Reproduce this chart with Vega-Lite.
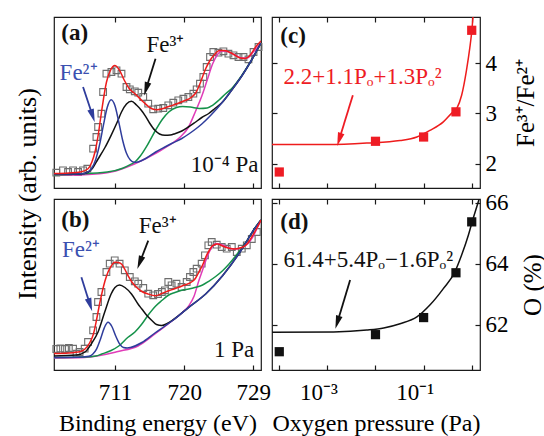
{
"$schema": "https://vega.github.io/schema/vega-lite/v6.json",
"padding": {"left": 13, "top": 15, "right": 0, "bottom": 0},
"bounds": "flush",
"columns": 2,
"spacing": {"row": 11, "column": 11},
"config": {
  "font": "Liberation Serif",
  "view": {"stroke": "#1a1a1a", "strokeWidth": 1.2},
  "axis": {"grid": false, "domain": false, "tickColor": "#1a1a1a", "tickSize": -5, "tickWidth": 1.2, "labelFont": "Liberation Serif", "labelFontSize": 23, "labelColor": "#000", "titleFont": "Liberation Serif", "titleFontSize": 24, "titleFontWeight": "normal", "titleColor": "#000", "labelFlush": false, "labelOverlap": false, "labelBound": false},
  "text": {"font": "Liberation Serif", "fontSize": 22}
},
"datasets": {
  "a": [
    {"c":"sat2","e":703.07,"i":10.7},{"c":"sat2","e":707,"i":11.3},{"c":"sat2","e":710.5,"i":14},{"c":"sat2","e":713.6,"i":22.3},{"c":"sat2","e":716.6,"i":34},{"c":"sat2","e":718.5,"i":43},{"c":"sat2","e":719.5,"i":49},{"c":"sat2","e":720.5,"i":58},{"c":"sat2","e":721.5,"i":75},{"c":"sat2","e":722.3,"i":90},{"c":"sat2","e":723,"i":106},{"c":"sat2","e":723.7,"i":122},{"c":"sat2","e":724.3,"i":131},{"c":"sat2","e":724.9,"i":135},{"c":"sat2","e":725.6,"i":134.5},{"c":"sat2","e":726.5,"i":131.5},{"c":"sat2","e":727.5,"i":128},{"c":"sat2","e":728.2,"i":128},{"c":"sat2","e":729,"i":134},{"c":"sat2","e":730,"i":143},
    {"c":"sat1","e":703.07,"i":11},{"c":"sat1","e":710,"i":14},{"c":"sat1","e":712,"i":17.8},{"c":"sat1","e":713,"i":21.5},{"c":"sat1","e":713.6,"i":24},{"c":"sat1","e":714.3,"i":30},{"c":"sat1","e":715.3,"i":42},{"c":"sat1","e":716.3,"i":56},{"c":"sat1","e":717.2,"i":67},{"c":"sat1","e":718,"i":74},{"c":"sat1","e":719,"i":78.5},{"c":"sat1","e":719.8,"i":79.5},{"c":"sat1","e":720.8,"i":79},{"c":"sat1","e":722,"i":77.5},{"c":"sat1","e":723,"i":78},{"c":"sat1","e":723.7,"i":80.7},{"c":"sat1","e":724.5,"i":85.7},{"c":"sat1","e":725.4,"i":92.3},{"c":"sat1","e":726.2,"i":97.5},{"c":"sat1","e":727.5,"i":110.5},{"c":"sat1","e":728.7,"i":125},{"c":"sat1","e":730,"i":143},
    {"c":"fe3","e":703.07,"i":12},{"c":"fe3","e":706,"i":12},{"c":"fe3","e":707,"i":12.5},{"c":"fe3","e":708,"i":17},{"c":"fe3","e":708.8,"i":27},{"c":"fe3","e":709.7,"i":38.5},{"c":"fe3","e":710.5,"i":50.7},{"c":"fe3","e":711.3,"i":64},{"c":"fe3","e":711.85,"i":74},{"c":"fe3","e":712.5,"i":82},{"c":"fe3","e":713.15,"i":84.7},{"c":"fe3","e":713.8,"i":81},{"c":"fe3","e":714.4,"i":76},{"c":"fe3","e":714.9,"i":70.7},{"c":"fe3","e":715.5,"i":63},{"c":"fe3","e":716.2,"i":55.7},{"c":"fe3","e":716.8,"i":52},{"c":"fe3","e":717.5,"i":50.7},{"c":"fe3","e":718.2,"i":51},{"c":"fe3","e":718.8,"i":52.3},{"c":"fe3","e":719.7,"i":55},{"c":"fe3","e":720.55,"i":59},{"c":"fe3","e":721.4,"i":63.5},{"c":"fe3","e":722.3,"i":68.5},{"c":"fe3","e":723.2,"i":72.5},{"c":"fe3","e":724,"i":77.5},{"c":"fe3","e":724.9,"i":83.2},{"c":"fe3","e":726.2,"i":96},{"c":"fe3","e":727.5,"i":110},{"c":"fe3","e":728.7,"i":125},{"c":"fe3","e":730,"i":143},
    {"c":"fe2","e":703.07,"i":12},{"c":"fe2","e":705,"i":12},{"c":"fe2","e":706.5,"i":12.3},{"c":"fe2","e":707,"i":12.5},{"c":"fe2","e":707.5,"i":14},{"c":"fe2","e":708,"i":18},{"c":"fe2","e":708.5,"i":26.6},{"c":"fe2","e":709,"i":41.3},{"c":"fe2","e":709.5,"i":60.9},{"c":"fe2","e":710,"i":78.7},{"c":"fe2","e":710.5,"i":86.2},{"c":"fe2","e":711,"i":80.2},{"c":"fe2","e":711.5,"i":63.9},{"c":"fe2","e":712,"i":45.8},{"c":"fe2","e":712.5,"i":32.7},{"c":"fe2","e":713,"i":25.9},{"c":"fe2","e":713.5,"i":23.7},{"c":"fe2","e":714,"i":24.1},{"c":"fe2","e":715,"i":27.5},{"c":"fe2","e":716.3,"i":34},{"c":"fe2","e":717.5,"i":39},{"c":"fe2","e":718.5,"i":43},{"c":"fe2","e":719.7,"i":47.5},{"c":"fe2","e":720.6,"i":52},{"c":"fe2","e":721.5,"i":57},{"c":"fe2","e":722.3,"i":62},{"c":"fe2","e":723.5,"i":71},{"c":"fe2","e":724.9,"i":83},{"c":"fe2","e":726.2,"i":96},{"c":"fe2","e":727.5,"i":110},{"c":"fe2","e":728.7,"i":125},{"c":"fe2","e":730,"i":143},
    {"c":"fit","e":703.07,"i":12.5},{"c":"fit","e":705,"i":13},{"c":"fit","e":706.5,"i":14},{"c":"fit","e":707.5,"i":17.3},{"c":"fit","e":708,"i":24},{"c":"fit","e":708.4,"i":34},{"c":"fit","e":708.8,"i":50},{"c":"fit","e":709.25,"i":74},{"c":"fit","e":709.9,"i":104},{"c":"fit","e":710.5,"i":117},{"c":"fit","e":710.97,"i":120.5},{"c":"fit","e":711.6,"i":115.7},{"c":"fit","e":712.2,"i":106},{"c":"fit","e":712.9,"i":97},{"c":"fit","e":713.6,"i":92.3},{"c":"fit","e":714.7,"i":84},{"c":"fit","e":715.8,"i":77.3},{"c":"fit","e":716.5,"i":76.3},{"c":"fit","e":717.3,"i":77.5},{"c":"fit","e":718,"i":79.5},{"c":"fit","e":719,"i":82},{"c":"fit","e":719.8,"i":84.5},{"c":"fit","e":721,"i":89},{"c":"fit","e":721.5,"i":93},{"c":"fit","e":722,"i":101},{"c":"fit","e":722.8,"i":117.3},{"c":"fit","e":723.4,"i":126},{"c":"fit","e":723.9,"i":131},{"c":"fit","e":724.6,"i":135.5},{"c":"fit","e":725.2,"i":135.5},{"c":"fit","e":726.3,"i":132.3},{"c":"fit","e":727.3,"i":128},{"c":"fit","e":727.9,"i":127.5},{"c":"fit","e":728.6,"i":131},{"c":"fit","e":729.3,"i":139},{"c":"fit","e":730,"i":145}
  ],
  "ap": [
    {"e":703.37,"i":13.3},{"e":704.24,"i":15.7},{"e":704.9,"i":14},{"e":705.55,"i":15.7},{"e":706.2,"i":14},{"e":706.85,"i":15.7},{"e":707.41,"i":17.3},{"e":708.16,"i":37.3},{"e":708.59,"i":49},{"e":708.81,"i":59},{"e":709.24,"i":72.3},{"e":709.46,"i":94},{"e":709.89,"i":112.3},{"e":710.54,"i":114},{"e":711.2,"i":115.7},{"e":711.85,"i":112.3},{"e":712.5,"i":99},{"e":712.93,"i":96.7},{"e":713.58,"i":94.7},{"e":714.03,"i":93.3},{"e":714.68,"i":89},{"e":715.33,"i":82.3},{"e":715.98,"i":76.7},{"e":716.63,"i":77.3},{"e":717.29,"i":78},{"e":717.94,"i":80.7},{"e":718.59,"i":83.3},{"e":719.24,"i":85.7},{"e":719.9,"i":87.3},{"e":720.55,"i":89},{"e":721.2,"i":92.3},{"e":721.63,"i":96.7},{"e":722.06,"i":102.3},{"e":722.5,"i":109},{"e":722.93,"i":119},{"e":723.37,"i":129},{"e":723.8,"i":134},{"e":724.46,"i":133.3},{"e":725.11,"i":134.7},{"e":725.76,"i":132.3},{"e":726.42,"i":130.7},{"e":727.07,"i":129},{"e":727.72,"i":129},{"e":728.37,"i":126.7},{"e":729.03,"i":134},{"e":729.68,"i":139}
  ],
  "b": [
    {"c":"sat2","e":703.07,"i":12},{"c":"sat2","e":707,"i":12.5},{"c":"sat2","e":711.4,"i":18.5},{"c":"sat2","e":714,"i":24},{"c":"sat2","e":716.2,"i":36},{"c":"sat2","e":718.5,"i":49.5},{"c":"sat2","e":719.7,"i":57},{"c":"sat2","e":720.6,"i":64},{"c":"sat2","e":721.3,"i":74},{"c":"sat2","e":721.9,"i":89},{"c":"sat2","e":722.4,"i":100},{"c":"sat2","e":722.8,"i":109},{"c":"sat2","e":723.4,"i":120},{"c":"sat2","e":724.2,"i":126.5},{"c":"sat2","e":725,"i":125},{"c":"sat2","e":725.8,"i":122},{"c":"sat2","e":726.6,"i":121},{"c":"sat2","e":727.5,"i":122.5},{"c":"sat2","e":728.3,"i":126.5},{"c":"sat2","e":728.9,"i":132.7},{"c":"sat2","e":729.5,"i":142},{"c":"sat2","e":730,"i":150},
    {"c":"sat1","e":703.07,"i":12.5},{"c":"sat1","e":707,"i":13},{"c":"sat1","e":708.5,"i":14},{"c":"sat1","e":709.3,"i":16},{"c":"sat1","e":710.5,"i":19.5},{"c":"sat1","e":711.5,"i":24},{"c":"sat1","e":712.7,"i":32.7},{"c":"sat1","e":713.6,"i":38},{"c":"sat1","e":714.5,"i":46},{"c":"sat1","e":715.3,"i":54.7},{"c":"sat1","e":716.3,"i":64},{"c":"sat1","e":717.1,"i":69.5},{"c":"sat1","e":718,"i":75},{"c":"sat1","e":718.8,"i":77.5},{"c":"sat1","e":719.8,"i":80},{"c":"sat1","e":720.6,"i":81},{"c":"sat1","e":721.5,"i":82.7},{"c":"sat1","e":722.4,"i":85},{"c":"sat1","e":723.2,"i":88.7},{"c":"sat1","e":724.1,"i":93.5},{"c":"sat1","e":725,"i":99.3},{"c":"sat1","e":725.9,"i":106.5},{"c":"sat1","e":726.7,"i":114},{"c":"sat1","e":727.6,"i":123},{"c":"sat1","e":728.45,"i":132.7},{"c":"sat1","e":729.3,"i":143},{"c":"sat1","e":730,"i":150},
    {"c":"fe3","e":703.07,"i":14},{"c":"fe3","e":706,"i":15},{"c":"fe3","e":707.1,"i":18},{"c":"fe3","e":708,"i":27},{"c":"fe3","e":708.8,"i":38},{"c":"fe3","e":709.67,"i":58},{"c":"fe3","e":710.5,"i":76},{"c":"fe3","e":711,"i":82.5},{"c":"fe3","e":711.6,"i":85},{"c":"fe3","e":712.3,"i":82.5},{"c":"fe3","e":713.15,"i":76},{"c":"fe3","e":714,"i":66},{"c":"fe3","e":714.5,"i":61},{"c":"fe3","e":715.1,"i":55},{"c":"fe3","e":715.8,"i":49.5},{"c":"fe3","e":716.4,"i":45.5},{"c":"fe3","e":717.1,"i":44.5},{"c":"fe3","e":717.8,"i":46.5},{"c":"fe3","e":718.5,"i":49.8},{"c":"fe3","e":720.6,"i":62.7},{"c":"fe3","e":722.8,"i":76},{"c":"fe3","e":725,"i":94.3},{"c":"fe3","e":727.1,"i":116},{"c":"fe3","e":729.3,"i":142.7},{"c":"fe3","e":730,"i":150},
    {"c":"fe2","e":703.07,"i":12.5},{"c":"fe2","e":706,"i":12.7},{"c":"fe2","e":707.6,"i":13.7},{"c":"fe2","e":708.1,"i":15.7},{"c":"fe2","e":708.6,"i":20.8},{"c":"fe2","e":709.1,"i":30.6},{"c":"fe2","e":709.6,"i":41.9},{"c":"fe2","e":710.1,"i":47.7},{"c":"fe2","e":710.6,"i":43.5},{"c":"fe2","e":711.1,"i":34},{"c":"fe2","e":711.6,"i":26.1},{"c":"fe2","e":712.1,"i":22.6},{"c":"fe2","e":712.6,"i":22.1},{"c":"fe2","e":713,"i":22.5},{"c":"fe2","e":714.5,"i":27.5},{"c":"fe2","e":716.2,"i":37},{"c":"fe2","e":717.5,"i":44},{"c":"fe2","e":718.5,"i":49.5},{"c":"fe2","e":720.6,"i":62.7},{"c":"fe2","e":722.8,"i":76},{"c":"fe2","e":725,"i":94.3},{"c":"fe2","e":727.1,"i":116},{"c":"fe2","e":729.3,"i":142.7},{"c":"fe2","e":730,"i":150},
    {"c":"fit","e":703.07,"i":16.5},{"c":"fit","e":705,"i":17},{"c":"fit","e":706.5,"i":18.5},{"c":"fit","e":707.1,"i":21},{"c":"fit","e":707.7,"i":27},{"c":"fit","e":708.2,"i":36},{"c":"fit","e":708.6,"i":50},{"c":"fit","e":709,"i":66},{"c":"fit","e":709.4,"i":80},{"c":"fit","e":709.7,"i":89},{"c":"fit","e":710.1,"i":98},{"c":"fit","e":710.54,"i":104.3},{"c":"fit","e":710.97,"i":107.7},{"c":"fit","e":711.4,"i":107.5},{"c":"fit","e":711.85,"i":106},{"c":"fit","e":712.3,"i":100.5},{"c":"fit","e":712.7,"i":94.3},{"c":"fit","e":713.2,"i":88},{"c":"fit","e":713.8,"i":82.7},{"c":"fit","e":714.5,"i":78.5},{"c":"fit","e":715.3,"i":76},{"c":"fit","e":716.3,"i":74.3},{"c":"fit","e":717.1,"i":76.5},{"c":"fit","e":718,"i":79.3},{"c":"fit","e":719,"i":82},{"c":"fit","e":719.8,"i":84.3},{"c":"fit","e":721.1,"i":88.7},{"c":"fit","e":721.5,"i":92},{"c":"fit","e":721.9,"i":97.7},{"c":"fit","e":722.4,"i":105},{"c":"fit","e":722.8,"i":112.7},{"c":"fit","e":723.3,"i":120},{"c":"fit","e":723.7,"i":124.3},{"c":"fit","e":724.3,"i":126},{"c":"fit","e":725,"i":124},{"c":"fit","e":725.4,"i":122.7},{"c":"fit","e":726.5,"i":121},{"c":"fit","e":727.6,"i":122.7},{"c":"fit","e":728.3,"i":127},{"c":"fit","e":728.9,"i":134.3},{"c":"fit","e":729.4,"i":141},{"c":"fit","e":730,"i":150}
  ],
  "bp": [
    {"e":703.37,"i":21},{"e":703.9,"i":21.5},{"e":704.5,"i":21},{"e":705,"i":22},{"e":705.55,"i":21.3},{"e":706,"i":16.3},{"e":706.4,"i":18},{"e":707.06,"i":21.3},{"e":707.5,"i":28},{"e":708.16,"i":39.7},{"e":708.59,"i":53},{"e":708.8,"i":68},{"e":709.24,"i":78},{"e":709.89,"i":98},{"e":710.32,"i":106.3},{"e":710.97,"i":109.7},{"e":711.6,"i":106.3},{"e":712.28,"i":99.7},{"e":712.93,"i":93},{"e":713.58,"i":88.7},{"e":714.03,"i":86.3},{"e":714.68,"i":82},{"e":715.33,"i":76.3},{"e":715.98,"i":74.7},{"e":716.6,"i":76},{"e":717.1,"i":78},{"e":717.5,"i":79.7},{"e":717.94,"i":88},{"e":718.37,"i":84.7},{"e":719,"i":86.3},{"e":719.67,"i":83},{"e":720.33,"i":88},{"e":720.76,"i":93},{"e":721.2,"i":98},{"e":721.63,"i":101.3},{"e":722.28,"i":106.3},{"e":722.71,"i":114.7},{"e":723.15,"i":124.7},{"e":723.59,"i":128},{"e":724.24,"i":125.3},{"e":724.89,"i":123},{"e":725.54,"i":121.3},{"e":726.2,"i":123},{"e":726.85,"i":118},{"e":727.5,"i":121.3},{"e":728.15,"i":124.7},{"e":728.8,"i":131},{"e":729.46,"i":138}
  ],
  "c": [
    {"p":7.06e-5,"v":2.38},{"p":0.001,"v":2.38},{"p":0.0066,"v":2.41},{"p":0.0324,"v":2.46},{"p":0.0724,"v":2.53},{"p":0.135,"v":2.66},{"p":0.257,"v":2.83},{"p":0.38,"v":3.0},{"p":0.49,"v":3.1},{"p":0.617,"v":3.36},{"p":0.776,"v":3.85},{"p":0.912,"v":4.3},{"p":1.0,"v":4.62},{"p":1.1,"v":5.1}
  ],
  "cp": [
    {"p":0.0001,"v":1.835},{"p":0.01,"v":2.445},{"p":0.1,"v":2.53},{"p":0.47,"v":3.03},{"p":1,"v":4.65}
  ],
  "d": [
    {"p":7.06e-5,"v":61.75},{"p":0.00135,"v":61.76},{"p":0.0066,"v":61.82},{"p":0.0148,"v":61.89},{"p":0.0324,"v":62.03},{"p":0.0724,"v":62.25},{"p":0.135,"v":62.64},{"p":0.257,"v":63.18},{"p":0.447,"v":63.73},{"p":0.617,"v":64.28},{"p":0.851,"v":64.93},{"p":1.07,"v":65.48},{"p":1.37,"v":66.03},{"p":1.6,"v":66.4}
  ],
  "dp": [
    {"p":0.0001,"v":61.11},{"p":0.01,"v":61.67},{"p":0.1,"v":62.23},{"p":0.47,"v":63.7},{"p":1,"v":65.37}
  ]
},
"concat": [
  {
    "width": 207, "height": 171,
    "layer": [
      {"data": {"name": "ap"}, "mark": {"type": "point", "shape": "square", "filled": false, "size": 45, "color": "#6e6e6e", "strokeWidth": 1.1, "opacity": 1},
       "encoding": {
         "x": {"field": "e", "type": "quantitative", "scale": {"domain": [703.07, 730], "nice": false, "zero": false}, "axis": {"orient": "top", "values": [711, 720, 729], "labels": false, "title": null}},
         "y": {"field": "i", "type": "quantitative", "scale": {"domain": [-2, 169], "nice": false, "zero": false}, "axis": null}}},
      {"data": {"name": "a"}, "mark": {"type": "line", "interpolate": "monotone", "strokeWidth": 1.5, "clip": true},
       "encoding": {
         "x": {"field": "e", "type": "quantitative", "scale": {"domain": [703.07, 730], "nice": false, "zero": false}, "axis": {"orient": "bottom", "values": [711, 720, 729], "labels": false, "title": null}},
         "y": {"field": "i", "type": "quantitative", "scale": {"domain": [-2, 169], "nice": false, "zero": false}, "axis": {"orient": "left", "ticks": false, "labels": false, "title": "Intensity (arb. units)", "titleFontSize": 26, "titlePadding": 14, "titleY": 176.5}},
         "color": {"field": "c", "type": "nominal", "scale": {"domain": ["sat2", "sat1", "fe3", "fe2", "fit"], "range": ["#e03cb8", "#15924a", "#111111", "#2f3d9c", "#ee1c1c"]}, "legend": null}}},
      {"data": {"values": [{"t": "(a)", "e": 704.02, "i": 146}]}, "mark": {"type": "text", "align": "left", "baseline": "alphabetic", "fontWeight": "bold", "fontSize": 23, "color": "#111"},
       "encoding": {"x": {"field": "e", "type": "quantitative", "scale": {"domain": [703.07, 730], "nice": false, "zero": false}, "axis": null}, "y": {"field": "i", "type": "quantitative", "scale": {"domain": [-2, 169], "nice": false, "zero": false}, "axis": null}, "text": {"field": "t"}}},
      {"data": {"values": [{"t": "Fe³⁺", "e": 715.11, "i": 134}, {"t": "10⁻⁴ Pa", "e": 720.85, "i": 14}]}, "mark": {"type": "text", "align": "left", "baseline": "alphabetic", "fontSize": 23, "color": "#111"},
       "encoding": {"x": {"field": "e", "type": "quantitative", "scale": {"domain": [703.07, 730], "nice": false, "zero": false}, "axis": null}, "y": {"field": "i", "type": "quantitative", "scale": {"domain": [-2, 169], "nice": false, "zero": false}, "axis": null}, "text": {"field": "t"}}},
      {"data": {"values": [{"t": "Fe²⁺", "e": 703.8, "i": 105.7}]}, "mark": {"type": "text", "align": "left", "baseline": "alphabetic", "fontSize": 23, "color": "#3b50b0"},
       "encoding": {"x": {"field": "e", "type": "quantitative", "scale": {"domain": [703.07, 730], "nice": false, "zero": false}, "axis": null}, "y": {"field": "i", "type": "quantitative", "scale": {"domain": [-2, 169], "nice": false, "zero": false}, "axis": null}, "text": {"field": "t"}}},
      {"data": {"values": [{"e": 716.28, "i": 127.3, "e2": 715.05, "i2": 97}]}, "mark": {"type": "rule", "color": "#111", "strokeWidth": 1.8},
       "encoding": {"x": {"field": "e", "type": "quantitative", "scale": {"domain": [703.07, 730], "nice": false, "zero": false}, "axis": null}, "y": {"field": "i", "type": "quantitative", "scale": {"domain": [-2, 169], "nice": false, "zero": false}, "axis": null}, "x2": {"field": "e2"}, "y2": {"field": "i2"}}},
      {"data": {"values": [{"e": 715.05, "i": 97}]}, "mark": {"type": "point", "shape": "M -0.5 -1 L 0 1 L 0.5 -1 Z", "filled": true, "size": 180, "color": "#111", "strokeWidth": 0, "angle": 17, "opacity": 1},
       "encoding": {"x": {"field": "e", "type": "quantitative", "scale": {"domain": [703.07, 730], "nice": false, "zero": false}, "axis": null}, "y": {"field": "i", "type": "quantitative", "scale": {"domain": [-2, 169], "nice": false, "zero": false}, "axis": null}}},
      {"data": {"values": [{"e": 706.85, "i": 99, "e2": 708.1, "i2": 70.2}]}, "mark": {"type": "rule", "color": "#2f3d9c", "strokeWidth": 1.8},
       "encoding": {"x": {"field": "e", "type": "quantitative", "scale": {"domain": [703.07, 730], "nice": false, "zero": false}, "axis": null}, "y": {"field": "i", "type": "quantitative", "scale": {"domain": [-2, 169], "nice": false, "zero": false}, "axis": null}, "x2": {"field": "e2"}, "y2": {"field": "i2"}}},
      {"data": {"values": [{"e": 708.1, "i": 70.2}]}, "mark": {"type": "point", "shape": "M -0.5 -1 L 0 1 L 0.5 -1 Z", "filled": true, "size": 180, "color": "#2f3d9c", "strokeWidth": 0, "angle": 342, "opacity": 1},
       "encoding": {"x": {"field": "e", "type": "quantitative", "scale": {"domain": [703.07, 730], "nice": false, "zero": false}, "axis": null}, "y": {"field": "i", "type": "quantitative", "scale": {"domain": [-2, 169], "nice": false, "zero": false}, "axis": null}}}
    ],
    "resolve": {"axis": {"x": "independent", "y": "independent"}}
  },
  {
    "width": 208, "height": 171,
    "layer": [
      {"data": {"name": "c"}, "mark": {"type": "line", "interpolate": "monotone", "strokeWidth": 1.5, "clip": true, "color": "#ee1c1c"},
       "encoding": {
         "x": {"field": "p", "type": "quantitative", "scale": {"type": "log", "domain": [7.06e-5, 1.486], "nice": false}, "axis": {"orient": "bottom", "values": [0.0001, 0.001, 0.01, 0.1, 1], "labels": false, "title": null}},
         "y": {"field": "v", "type": "quantitative", "scale": {"domain": [1.517, 4.914], "nice": false, "zero": false}, "axis": {"orient": "right", "values": [2, 3, 4], "labelPadding": 10, "title": "Fe³⁺/Fe²⁺", "titleAngle": 270, "titleBaseline": "top", "titleFontSize": 25, "titlePadding": 17}}}},
      {"data": {"name": "cp"}, "mark": {"type": "point", "shape": "square", "filled": true, "size": 85, "color": "#ee1c24", "opacity": 1},
       "encoding": {
         "x": {"field": "p", "type": "quantitative", "scale": {"type": "log", "domain": [7.06e-5, 1.486], "nice": false}, "axis": {"orient": "top", "values": [0.0001, 0.001, 0.01, 0.1, 1], "labels": false, "title": null}},
         "y": {"field": "v", "type": "quantitative", "scale": {"domain": [1.517, 4.914], "nice": false, "zero": false}, "axis": {"orient": "left", "values": [2, 3, 4], "labels": false, "title": null}}}},
      {"data": {"values": [{"t": "(c)", "p": 0.000105, "v": 4.405}]}, "mark": {"type": "text", "align": "left", "baseline": "alphabetic", "fontWeight": "bold", "fontSize": 23, "color": "#111"},
       "encoding": {"x": {"field": "p", "type": "quantitative", "scale": {"type": "log", "domain": [7.06e-5, 1.486], "nice": false}, "axis": null}, "y": {"field": "v", "type": "quantitative", "scale": {"domain": [1.517, 4.914], "nice": false, "zero": false}, "axis": null}, "text": {"field": "t"}}},
      {"data": {"values": [{"t": "2.2+1.1Pₒ+1.3Pₒ²", "p": 0.000123, "v": 3.59}]}, "mark": {"type": "text", "align": "left", "baseline": "alphabetic", "fontSize": 23, "color": "#ee1c24"},
       "encoding": {"x": {"field": "p", "type": "quantitative", "scale": {"type": "log", "domain": [7.06e-5, 1.486], "nice": false}, "axis": null}, "y": {"field": "v", "type": "quantitative", "scale": {"domain": [1.517, 4.914], "nice": false, "zero": false}, "axis": null}, "text": {"field": "t"}}},
      {"data": {"values": [{"p": 0.00338, "v": 3.36, "p2": 0.00176, "v2": 2.48}]}, "mark": {"type": "rule", "color": "#ee1c24", "strokeWidth": 1.8},
       "encoding": {"x": {"field": "p", "type": "quantitative", "scale": {"type": "log", "domain": [7.06e-5, 1.486], "nice": false}, "axis": null}, "y": {"field": "v", "type": "quantitative", "scale": {"domain": [1.517, 4.914], "nice": false, "zero": false}, "axis": null}, "x2": {"field": "p2"}, "y2": {"field": "v2"}}},
      {"data": {"values": [{"p": 0.00176, "v": 2.48}]}, "mark": {"type": "point", "shape": "M -0.5 -1 L 0 1 L 0.5 -1 Z", "filled": true, "size": 180, "color": "#ee1c24", "strokeWidth": 0, "angle": 17.5, "opacity": 1},
       "encoding": {"x": {"field": "p", "type": "quantitative", "scale": {"type": "log", "domain": [7.06e-5, 1.486], "nice": false}, "axis": null}, "y": {"field": "v", "type": "quantitative", "scale": {"domain": [1.517, 4.914], "nice": false, "zero": false}, "axis": null}}}
    ],
    "resolve": {"axis": {"x": "independent", "y": "independent"}}
  },
  {
    "width": 207, "height": 171,
    "layer": [
      {"data": {"name": "bp"}, "mark": {"type": "point", "shape": "square", "filled": false, "size": 45, "color": "#6e6e6e", "strokeWidth": 1.1, "opacity": 1},
       "encoding": {
         "x": {"field": "e", "type": "quantitative", "scale": {"domain": [703.07, 730], "nice": false, "zero": false}, "axis": {"orient": "top", "values": [711, 720, 729], "labels": false, "title": null}},
         "y": {"field": "i", "type": "quantitative", "scale": {"domain": [0, 171], "nice": false, "zero": false}, "axis": null}}},
      {"data": {"name": "b"}, "mark": {"type": "line", "interpolate": "monotone", "strokeWidth": 1.5, "clip": true},
       "encoding": {
         "x": {"field": "e", "type": "quantitative", "scale": {"domain": [703.07, 730], "nice": false, "zero": false}, "axis": {"orient": "bottom", "values": [711, 720, 729], "labelPadding": 16, "title": "Binding energy (eV)", "titlePadding": 7}},
         "y": {"field": "i", "type": "quantitative", "scale": {"domain": [0, 171], "nice": false, "zero": false}, "axis": null},
         "color": {"field": "c", "type": "nominal", "scale": {"domain": ["sat2", "sat1", "fe3", "fe2", "fit"], "range": ["#e03cb8", "#15924a", "#111111", "#2f3d9c", "#ee1c1c"]}, "legend": null}}},
      {"data": {"values": [{"t": "(b)", "e": 704.02, "i": 143}]}, "mark": {"type": "text", "align": "left", "baseline": "alphabetic", "fontWeight": "bold", "fontSize": 23, "color": "#111"},
       "encoding": {"x": {"field": "e", "type": "quantitative", "scale": {"domain": [703.07, 730], "nice": false, "zero": false}, "axis": null}, "y": {"field": "i", "type": "quantitative", "scale": {"domain": [0, 171], "nice": false, "zero": false}, "axis": null}, "text": {"field": "t"}}},
      {"data": {"values": [{"t": "Fe³⁺", "e": 714.1, "i": 137}, {"t": "1 Pa", "e": 723.89, "i": 12.7}]}, "mark": {"type": "text", "align": "left", "baseline": "alphabetic", "fontSize": 23, "color": "#111"},
       "encoding": {"x": {"field": "e", "type": "quantitative", "scale": {"domain": [703.07, 730], "nice": false, "zero": false}, "axis": null}, "y": {"field": "i", "type": "quantitative", "scale": {"domain": [0, 171], "nice": false, "zero": false}, "axis": null}, "text": {"field": "t"}}},
      {"data": {"values": [{"t": "Fe²⁺", "e": 704.11, "i": 112.7}]}, "mark": {"type": "text", "align": "left", "baseline": "alphabetic", "fontSize": 23, "color": "#3b50b0"},
       "encoding": {"x": {"field": "e", "type": "quantitative", "scale": {"domain": [703.07, 730], "nice": false, "zero": false}, "axis": null}, "y": {"field": "i", "type": "quantitative", "scale": {"domain": [0, 171], "nice": false, "zero": false}, "axis": null}, "text": {"field": "t"}}},
      {"data": {"values": [{"e": 715.33, "i": 129.3, "e2": 714.22, "i2": 107.3}]}, "mark": {"type": "rule", "color": "#111", "strokeWidth": 1.8},
       "encoding": {"x": {"field": "e", "type": "quantitative", "scale": {"domain": [703.07, 730], "nice": false, "zero": false}, "axis": null}, "y": {"field": "i", "type": "quantitative", "scale": {"domain": [0, 171], "nice": false, "zero": false}, "axis": null}, "x2": {"field": "e2"}, "y2": {"field": "i2"}}},
      {"data": {"values": [{"e": 714.22, "i": 107.3}]}, "mark": {"type": "point", "shape": "M -0.5 -1 L 0 1 L 0.5 -1 Z", "filled": true, "size": 180, "color": "#111", "strokeWidth": 0, "angle": 20.7, "opacity": 1},
       "encoding": {"x": {"field": "e", "type": "quantitative", "scale": {"domain": [703.07, 730], "nice": false, "zero": false}, "axis": null}, "y": {"field": "i", "type": "quantitative", "scale": {"domain": [0, 171], "nice": false, "zero": false}, "axis": null}}},
      {"data": {"values": [{"e": 706.63, "i": 92.7, "e2": 707.77, "i2": 65.1}]}, "mark": {"type": "rule", "color": "#2f3d9c", "strokeWidth": 1.8},
       "encoding": {"x": {"field": "e", "type": "quantitative", "scale": {"domain": [703.07, 730], "nice": false, "zero": false}, "axis": null}, "y": {"field": "i", "type": "quantitative", "scale": {"domain": [0, 171], "nice": false, "zero": false}, "axis": null}, "x2": {"field": "e2"}, "y2": {"field": "i2"}}},
      {"data": {"values": [{"e": 707.77, "i": 65.1}]}, "mark": {"type": "point", "shape": "M -0.5 -1 L 0 1 L 0.5 -1 Z", "filled": true, "size": 180, "color": "#2f3d9c", "strokeWidth": 0, "angle": 342.5, "opacity": 1},
       "encoding": {"x": {"field": "e", "type": "quantitative", "scale": {"domain": [703.07, 730], "nice": false, "zero": false}, "axis": null}, "y": {"field": "i", "type": "quantitative", "scale": {"domain": [0, 171], "nice": false, "zero": false}, "axis": null}}}
    ],
    "resolve": {"axis": {"x": "independent", "y": "independent"}}
  },
  {
    "width": 208, "height": 171,
    "layer": [
      {"data": {"name": "d"}, "mark": {"type": "line", "interpolate": "monotone", "strokeWidth": 1.5, "clip": true, "color": "#111"},
       "encoding": {
         "x": {"field": "p", "type": "quantitative", "scale": {"type": "log", "domain": [7.06e-5, 1.486], "nice": false}, "axis": {"orient": "bottom", "values": [0.0001, 0.001, 0.01, 0.1, 1], "labelPadding": 16, "labelOffset": -9, "labelExpr": "abs(log(datum.value)/LN10 + 3) < 0.01 ? '10⁻³' : (abs(log(datum.value)/LN10 + 1) < 0.01 ? '10⁻¹' : '')", "title": "Oxygen pressure (Pa)", "titlePadding": 7}},
         "y": {"field": "v", "type": "quantitative", "scale": {"domain": [60.51, 66.12], "nice": false, "zero": false}, "axis": {"orient": "right", "values": [62, 64, 66], "labelPadding": 10, "title": "O (%)", "titleAngle": 270, "titleBaseline": "top", "titleFontSize": 25, "titlePadding": 12}}}},
      {"data": {"name": "dp"}, "mark": {"type": "point", "shape": "square", "filled": true, "size": 85, "color": "#111", "opacity": 1},
       "encoding": {
         "x": {"field": "p", "type": "quantitative", "scale": {"type": "log", "domain": [7.06e-5, 1.486], "nice": false}, "axis": {"orient": "top", "values": [0.0001, 0.001, 0.01, 0.1, 1], "labels": false, "title": null}},
         "y": {"field": "v", "type": "quantitative", "scale": {"domain": [60.51, 66.12], "nice": false, "zero": false}, "axis": {"orient": "left", "values": [62, 64, 66], "labels": false, "title": null}}}},
      {"data": {"values": [{"t": "(d)", "p": 0.000105, "v": 65.15}]}, "mark": {"type": "text", "align": "left", "baseline": "alphabetic", "fontWeight": "bold", "fontSize": 23, "color": "#111"},
       "encoding": {"x": {"field": "p", "type": "quantitative", "scale": {"type": "log", "domain": [7.06e-5, 1.486], "nice": false}, "axis": null}, "y": {"field": "v", "type": "quantitative", "scale": {"domain": [60.51, 66.12], "nice": false, "zero": false}, "axis": null}, "text": {"field": "t"}}},
      {"data": {"values": [{"t": "61.4+5.4Pₒ−1.6Pₒ²", "p": 0.000123, "v": 63.89}]}, "mark": {"type": "text", "align": "left", "baseline": "alphabetic", "fontSize": 23, "color": "#111"},
       "encoding": {"x": {"field": "p", "type": "quantitative", "scale": {"type": "log", "domain": [7.06e-5, 1.486], "nice": false}, "axis": null}, "y": {"field": "v", "type": "quantitative", "scale": {"domain": [60.51, 66.12], "nice": false, "zero": false}, "axis": null}, "text": {"field": "t"}}},
      {"data": {"values": [{"p": 0.00297, "v": 63.46, "p2": 0.00161, "v2": 62.07}]}, "mark": {"type": "rule", "color": "#111", "strokeWidth": 1.8},
       "encoding": {"x": {"field": "p", "type": "quantitative", "scale": {"type": "log", "domain": [7.06e-5, 1.486], "nice": false}, "axis": null}, "y": {"field": "v", "type": "quantitative", "scale": {"domain": [60.51, 66.12], "nice": false, "zero": false}, "axis": null}, "x2": {"field": "p2"}, "y2": {"field": "v2"}}},
      {"data": {"values": [{"p": 0.00161, "v": 62.07}]}, "mark": {"type": "point", "shape": "M -0.5 -1 L 0 1 L 0.5 -1 Z", "filled": true, "size": 180, "color": "#111", "strokeWidth": 0, "angle": 16.7, "opacity": 1},
       "encoding": {"x": {"field": "p", "type": "quantitative", "scale": {"type": "log", "domain": [7.06e-5, 1.486], "nice": false}, "axis": null}, "y": {"field": "v", "type": "quantitative", "scale": {"domain": [60.51, 66.12], "nice": false, "zero": false}, "axis": null}}}
    ],
    "resolve": {"axis": {"x": "independent", "y": "independent"}}
  }
]
}
